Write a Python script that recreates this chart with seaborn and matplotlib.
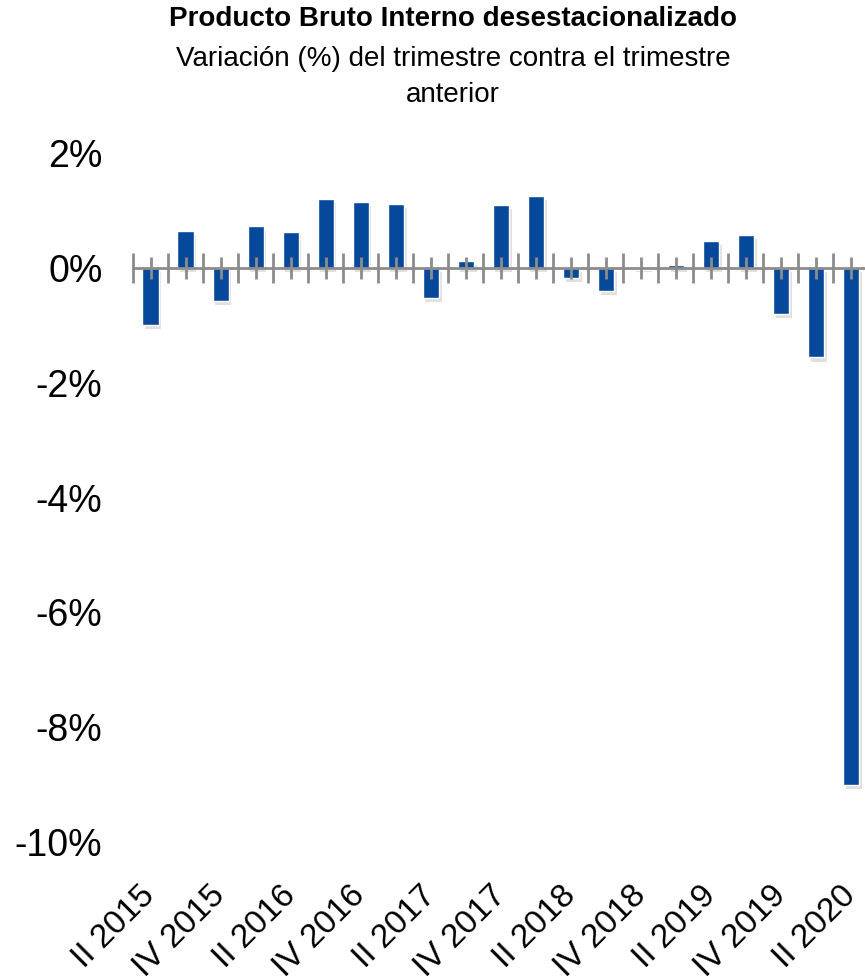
import numpy as np
import pandas as pd
import matplotlib
matplotlib.use('Agg')
import matplotlib.pyplot as plt
import matplotlib.patheffects as pe
import seaborn as sns

# Datos: variación % trimestral del PBI desestacionalizado
trimestres = ['II 2015', 'III 2015', 'IV 2015', 'I 2016', 'II 2016', 'III 2016', 'IV 2016',
              'I 2017', 'II 2017', 'III 2017', 'IV 2017', 'I 2018', 'II 2018', 'III 2018',
              'IV 2018', 'I 2019', 'II 2019', 'III 2019', 'IV 2019', 'I 2020', 'II 2020']
variacion = [-1.0, 0.64, -0.57, 0.73, 0.62, 1.2, 1.15, 1.11, -0.52, 0.12, 1.09, 1.25,
             -0.17, -0.40, 0.02, 0.05, 0.47, 0.57, -0.80, -1.56, -9.0]
etiquetas = [t if i % 2 == 0 else '' for i, t in enumerate(trimestres)]
yticks = [2, 0, -2, -4, -6, -8, -10]

df = pd.DataFrame({'trimestre': trimestres, 'variacion': variacion})

sns.set_style('white')
plt.rcParams['font.family'] = ['Liberation Sans', 'DejaVu Sans']
plt.rcParams['text.color'] = 'black'
plt.rcParams['xtick.color'] = 'black'
plt.rcParams['ytick.color'] = 'black'

fig = plt.figure(figsize=(8.65, 9.76), dpi=100)
ax = fig.add_axes([133 / 865, 1 - 842 / 976, (868.5 - 133) / 865, (842 - 153) / 976])

sns.barplot(data=df, x='trimestre', y='variacion', color='#06499A', saturation=1,
            width=0.46, ax=ax)
for bar in ax.patches:
    bar.set_path_effects([pe.SimplePatchShadow(offset=(2, -3), shadow_rgbFace='#999999', alpha=0.3),
                          pe.Normal()])

ax.set_ylim(-10, 2)
ax.set_xlim(-0.5, len(trimestres) - 0.5)
ax.set_yticks(yticks)
ax.set_yticklabels([f'{v}%' for v in yticks], fontsize=27)
ax.tick_params(axis='y', length=0, pad=22)

# eje cero: marcas en el centro de cada barra (mayores) y entre categorías (menores)
ax.tick_params(axis='x', which='major', top=True, bottom=False, labelbottom=True,
               direction='inout', length=16, width=2, color='#8C8C8C', pad=27,
               labelcolor='black', labelsize=24, labelrotation=45)
ax.tick_params(axis='x', which='minor', top=True, bottom=False, labelbottom=False,
               direction='inout', length=22, width=2, color='#8C8C8C')
ax.set_xticks(range(len(trimestres)))
ax.set_xticks(np.arange(-0.5, len(trimestres), 1), minor=True)
ax.set_xticklabels(etiquetas)

for s in ['left', 'right', 'bottom']:
    ax.spines[s].set_visible(False)
ax.spines['top'].set_position(('data', 0))
ax.spines['top'].set_color('#8C8C8C')
ax.spines['top'].set_linewidth(2)
ax.set_axisbelow(False)
ax.set_xlabel('')
ax.set_ylabel('')

fig.text(453 / 865, 1 - 19 / 976, 'Producto Bruto Interno desestacionalizado',
         ha='center', va='center', fontsize=20, fontweight='bold')
fig.text(453 / 865, 1 - 77 / 976, 'Variación (%) del trimestre contra el trimestre\nanterior',
         ha='center', va='center', fontsize=20, linespacing=1.45)

plt.setp(ax.get_xticklabels(), rotation=45, ha='right', va='center',
         rotation_mode='anchor', fontsize=24)

fig.savefig('out.png', dpi=100)
